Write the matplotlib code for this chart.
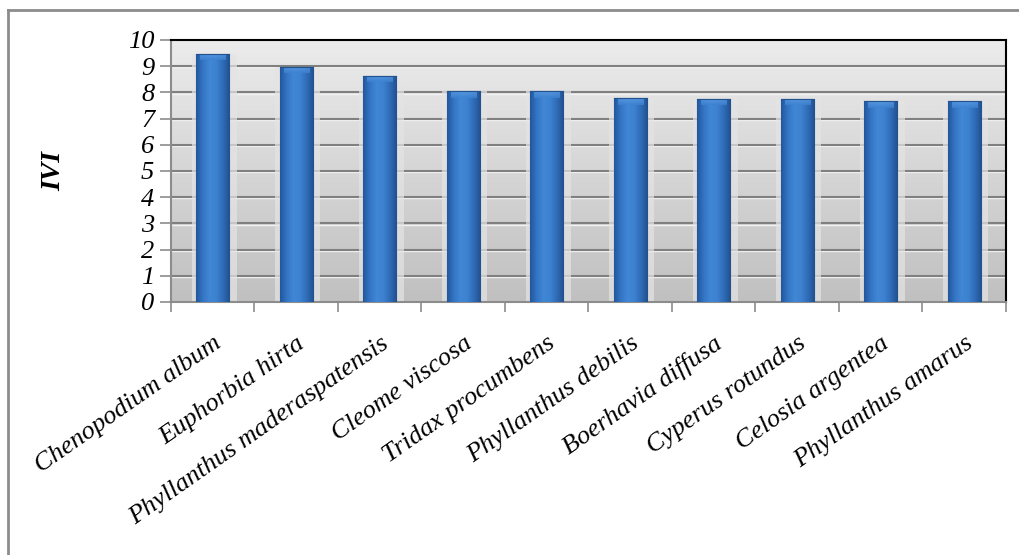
import numpy as np
import matplotlib
matplotlib.use("Agg")
import matplotlib.pyplot as plt
from matplotlib.colors import LinearSegmentedColormap
from matplotlib.lines import Line2D

# Data
species = ["Chenopodium album", "Euphorbia hirta", "Phyllanthus maderaspatensis",
           "Cleome viscosa", "Tridax procumbens", "Phyllanthus debilis",
           "Boerhavia diffusa", "Cyperus rotundus", "Celosia argentea",
           "Phyllanthus amarus"]
ivi = [9.47, 8.98, 8.63, 8.05, 8.05, 7.78, 7.75, 7.75, 7.66, 7.66]
yticks = list(range(0, 11))

plt.rcParams['font.family'] = ['Liberation Serif', 'DejaVu Serif']

fig = plt.figure(figsize=(10.19, 5.55), dpi=100)
ax = fig.add_axes([0.1678, 0.4559, 0.8194, 0.4721])

# Outer chart frame (only left and top edges are visible)
fig.add_artist(Line2D([0.008, 0.008], [0.0, 0.982], transform=fig.transFigure,
                      color='#8c8c8c', lw=2))
fig.add_artist(Line2D([0.008, 1.0], [0.982, 0.982], transform=fig.transFigure,
                      color='#8c8c8c', lw=2))

# Gray gradient wall
wall = np.linspace(0, 1, 256).reshape(-1, 1)
wall_cmap = LinearSegmentedColormap.from_list('wall', ['#c0c0c0', '#ececec'])
ax.imshow(wall, cmap=wall_cmap, aspect='auto', extent=[0, 1, 0, 1],
          transform=ax.transAxes, origin='lower', zorder=0)

# Gridlines with a faint highlight below
for t in yticks[1:-1]:
    ax.axhline(t - 0.05, color='#f2f2f2', lw=1.0, zorder=1)
    ax.axhline(t, color='#808080', lw=1.5, zorder=1)

x = np.arange(len(species))
width = 0.4

# soft halo behind bars
ax.bar(x + 0.02, ivi, width=width + 0.14, color='#e4e4e4', alpha=0.7,
       zorder=2, linewidth=0)

bars = ax.bar(x, ivi, width=width, color='#3476c4', edgecolor='#21518f',
              linewidth=0.8, zorder=3)

# horizontal shading on each bar, clipped to the bar
bar_cmap = LinearSegmentedColormap.from_list(
    'bar', ['#22579c', '#3475c4', '#4087d6', '#3d82d0', '#2f6bb6', '#21508e'])
bev_cmap = LinearSegmentedColormap.from_list('bev', ['#3d82d0', '#5d9de4'])
grad = np.linspace(0, 1, 128).reshape(1, -1)
top = np.linspace(0, 1, 64).reshape(-1, 1)
for b in bars:
    bx, by = b.get_x(), b.get_y()
    bw, bh = b.get_width(), b.get_height()
    im = ax.imshow(grad, cmap=bar_cmap, aspect='auto',
                   extent=[bx, bx + bw, by, by + bh], zorder=4)
    im.set_clip_path(b)
    # light bevel on top
    im2 = ax.imshow(top, cmap=bev_cmap, aspect='auto', origin='lower',
                    extent=[bx + 0.05, bx + bw - 0.05, by + bh - 0.25, by + bh],
                    zorder=5, alpha=0.8)
    im2.set_clip_path(b)
    ax.plot([bx, bx + bw], [by + bh, by + bh], color='#21518f', lw=0.8, zorder=6)

ax.set_xlim(-0.5, len(species) - 0.5)
ax.set_ylim(0, 10)

# Spines
for side in ['top', 'right']:
    ax.spines[side].set_color('black')
    ax.spines[side].set_linewidth(1.5)
for side in ['left', 'bottom']:
    ax.spines[side].set_color('#8c8c8c')
    ax.spines[side].set_linewidth(1.5)

# Y axis
ax.set_yticks(yticks)
ax.set_yticklabels([str(t) for t in yticks], fontsize=19, fontstyle='italic')
ax.tick_params(axis='y', direction='out', length=8, width=1.2, color='#8c8c8c', pad=4)
ax.set_ylabel('IVI', fontsize=20, fontweight='bold', fontstyle='italic')
ax.yaxis.set_label_coords(-0.125, 0.5)

# X axis: ticks at category boundaries, labels at centres
ax.set_xticks(x)
ax.set_xticklabels(species, rotation=35, ha='right', va='top',
                   rotation_mode='anchor', fontsize=19, fontstyle='italic')
ax.tick_params(axis='x', which='major', length=0, pad=22)
ax.set_xticks(np.arange(-0.5, len(species)), minor=True)
ax.tick_params(axis='x', which='minor', direction='out', length=7, width=1.2,
               color='#8c8c8c')

fig.savefig('out.png', dpi=100, facecolor='white')
